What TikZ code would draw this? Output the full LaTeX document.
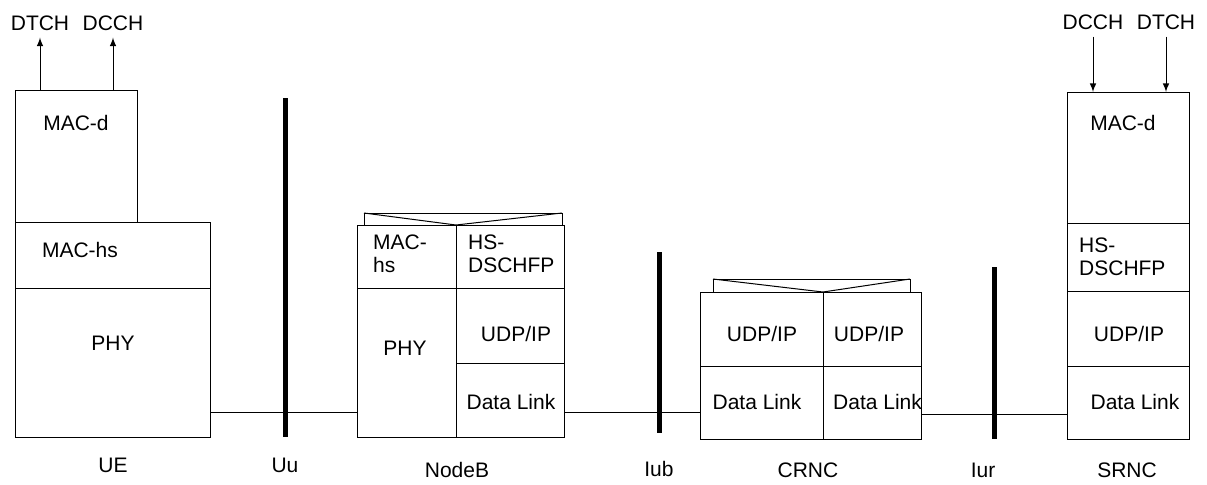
\documentclass[tikz,border=0pt]{standalone}
\usepackage{fontspec}
\setmainfont{Liberation Sans}
\usetikzlibrary{arrows,positioning}

\begin{document}
\begin{tikzpicture}[x=0.5pt,y=-0.5pt,>=latex,line width=0.5pt,
        every node/.style={font=\fontsize{10.5}{11.5}\selectfont},
        layer/.style 2 args={draw,rectangle,anchor=north west,inner sep=0pt,outer sep=0pt,
            minimum width=#1*0.5pt,minimum height=#2*0.5pt},
        iface/.style={line width=2.5pt},
        twoline/.style={align=left,anchor=west}]
        \useasboundingbox (0,0) rectangle (1207,484);

        % UE
        \node[layer={122}{132}] (ue-macd) at (15,90) {};
        \node[layer={195}{66}] (ue-machs) at (ue-macd.south west) {};
        \node[layer={195}{149}] (ue-phy) at (ue-machs.south west) {};
        \node (ue-macd-t) at (76,123) {MAC-d};
        \node (ue-machs-t) at (80,250) {MAC-hs};
        \node (ue-phy-t) at (113,343) {PHY};
        \node (ue) at (113,465) {UE};
        \node (ue-dtch) at (40,23) {DTCH};
        \node (ue-dcch) at (113,23) {DCCH};
        \draw[->] (ue-dtch.south |- ue-macd.north) -- (ue-dtch.south);
        \draw[->] (ue-dcch.south |- ue-macd.north) -- (ue-dcch.south);

        % NodeB
        \node[layer={198}{12}] (nb-back) at (364,213) {};
        \node[layer={99}{63}] (nb-mac) at (357,225) {};
        \node[layer={108}{63}] (nb-hs) at (nb-mac.north east) {};
        \node[layer={99}{149}] (nb-phy) at (nb-mac.south west) {};
        \node[layer={108}{75}] (nb-udp) at (nb-hs.south west) {};
        \node[layer={108}{74}] (nb-dl) at (nb-udp.south west) {};
        \draw (nb-back.north west) -- (nb-mac.north east) -- (nb-back.north east);
        \node[twoline] (nb-mac-t) at (366,254) {MAC-\\hs};
        \node[twoline] (nb-hs-t) at (461,254) {HS-\\DSCHFP};
        \node (nb-phy-t) at (405,348) {PHY};
        \node (nb-udp-t) at (516,334) {UDP/IP};
        \node (nb-dl-t) at (511,402) {Data Link};
        \node (nb) at (457,470) {NodeB};

        % CRNC
        \node[layer={197}{13}] (cr-back) at (713,279) {};
        \node[layer={123}{74}] (cr-udp1) at (700,292) {};
        \node[layer={98}{74}] (cr-udp2) at (cr-udp1.north east) {};
        \node[layer={123}{73}] (cr-dl1) at (cr-udp1.south west) {};
        \node[layer={98}{73}] (cr-dl2) at (cr-udp2.south west) {};
        \draw (cr-back.north west) -- (cr-udp1.north east) -- (cr-back.north east);
        \node (cr-udp1-t) at (762,334) {UDP/IP};
        \node (cr-udp2-t) at (869,334) {UDP/IP};
        \node (cr-dl1-t) at (757,402) {Data Link};
        \node[anchor=west] (cr-dl2-t) at (826,402) {Data Link};
        \node (cr) at (808,470) {CRNC};

        % SRNC
        \node[layer={122}{131}] (sr-macd) at (1067,92) {};
        \node[layer={122}{68}] (sr-hs) at (sr-macd.south west) {};
        \node[layer={122}{75}] (sr-udp) at (sr-hs.south west) {};
        \node[layer={122}{73}] (sr-dl) at (sr-udp.south west) {};
        \node (sr-macd-t) at (1123,123) {MAC-d};
        \node[twoline] (sr-hs-t) at (1072,257) {HS-\\DSCHFP};
        \node (sr-udp-t) at (1129,334) {UDP/IP};
        \node (sr-dl-t) at (1135,402) {Data Link};
        \node (sr) at (1127,470) {SRNC};
        \node (sr-dcch) at (1093,22) {DCCH};
        \node (sr-dtch) at (1166,22) {DTCH};
        \draw[->] (sr-dcch.south) -- (sr-dcch.south |- sr-macd.north);
        \draw[->] (sr-dtch.south) -- (sr-dtch.south |- sr-macd.north);

        % links
        \draw ([yshift=12.5pt]ue-phy.south east) -- ([yshift=12.5pt]nb-phy.south west);
        \draw ([yshift=12.5pt]nb-dl.south east) -- ([yshift=13.5pt]cr-dl1.south west);
        \draw ([yshift=12.5pt]cr-dl2.south east) -- ([yshift=12.5pt]sr-dl.south west);

        % interfaces
        \coordinate (uu-top) at (285,98);
        \coordinate (uu-bot) at (285,437);
        \coordinate (iub-top) at (659,252);
        \coordinate (iub-bot) at (659,433);
        \coordinate (iur-top) at (994,267);
        \coordinate (iur-bot) at (994,439);
        \draw[iface] (uu-top) -- (uu-bot);
        \draw[iface] (iub-top) -- (iub-bot);
        \draw[iface] (iur-top) -- (iur-bot);
        \node (uu) at (285,465) {Uu};
        \node (iub) at (659,469) {Iub};
        \node (iur) at (983,470) {Iur};
    \end{tikzpicture}
\end{document}
